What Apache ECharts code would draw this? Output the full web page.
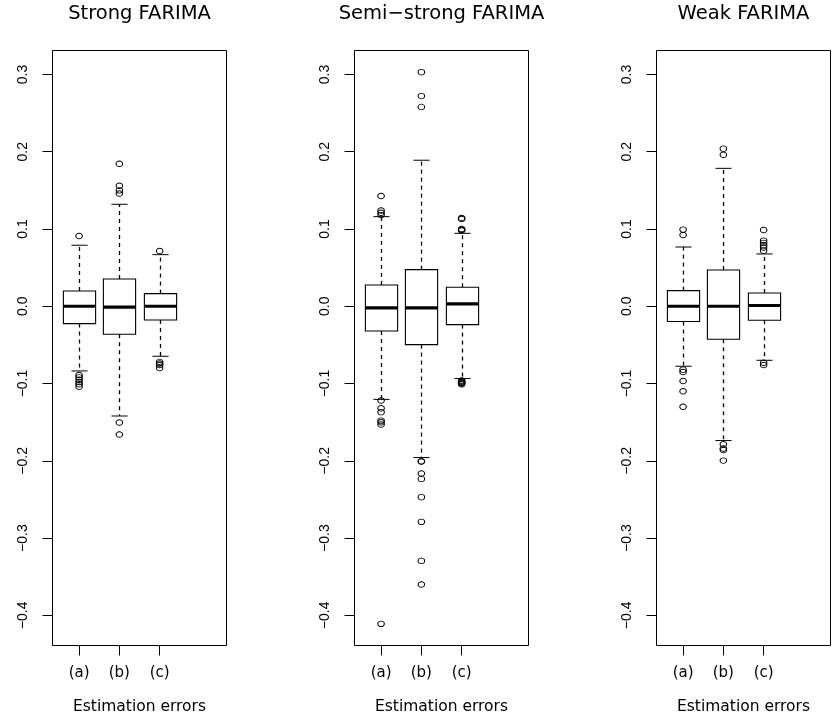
<!DOCTYPE html>
<html>
<head>
<meta charset="utf-8">
<script src="https://cdn.jsdelivr.net/npm/echarts@6/dist/echarts.min.js"></script>
<style>
html,body{margin:0;padding:0;background:#ffffff;}
#chart{width:833px;height:719px;}
</style>
</head>
<body>
<div id="chart"></div>
<script>
// ---------------- data ----------------
const categories = ['(a)', '(b)', '(c)'];
const categoryPositions = [1, 2, 3];
const panelTitles = ['Strong FARIMA', 'Semi\u2212strong FARIMA', 'Weak FARIMA'];
const xAxisTitle = 'Estimation errors';
const yTickValues = [-0.4, -0.3, -0.2, -0.1, 0.0, 0.1, 0.2, 0.3];
const yTickLabels = ['\u22120.4', '\u22120.3', '\u22120.2', '\u22120.1', '0.0', '0.1', '0.2', '0.3'];

// box statistics per category: [lower whisker, Q1, median, Q3, upper whisker]
const strongBoxes = [
  [-0.0837, -0.0224, 0.000, 0.0198, 0.079],
  [-0.142, -0.0362, -0.001, 0.0353, 0.132],
  [-0.0647, -0.0177, 0.000, 0.0164, 0.0668]
];
const strongOutliers = [
  [0.091, -0.089, -0.092, -0.095, -0.098, -0.101, -0.104],
  [0.1845, 0.156, 0.150, 0.146, -0.1505, -0.166],
  [0.0716, -0.072, -0.074, -0.076, -0.080]
];

const semiBoxes = [
  [-0.1205, -0.032, -0.002, 0.0276, 0.116],
  [-0.1958, -0.0496, -0.002, 0.0474, 0.189],
  [-0.0935, -0.0237, 0.003, 0.0246, 0.0944]
];
const semiOutliers = [
  [0.1427, 0.124, 0.121, 0.118, -0.122, -0.132, -0.137, -0.148, -0.150, -0.153, -0.411],
  [0.303, 0.272, 0.258, -0.2005, -0.201, -0.2165, -0.2234, -0.247, -0.279, -0.3295, -0.360],
  [0.1143, 0.113, 0.100, 0.099, 0.098, -0.096, -0.097, -0.098, -0.099, -0.100, -0.101]
];

const weakBoxes = [
  [-0.0776, -0.0198, 0.000, 0.0203, 0.0767],
  [-0.1738, -0.0427, 0.000, 0.047, 0.1785],
  [-0.0699, -0.0181, 0.001, 0.0172, 0.0677]
];
const weakOutliers = [
  [0.0992, 0.0923, -0.082, -0.085, -0.0966, -0.110, -0.130],
  [0.204, 0.196, -0.1785, -0.184, -0.186, -0.1997],
  [0.0987, 0.085, 0.082, 0.079, 0.076, 0.072, -0.073, -0.076]
];

const panelBoxes = [strongBoxes, semiBoxes, weakBoxes];
const panelOutliers = [strongOutliers, semiOutliers, weakOutliers];

// ---------------- layout / style ----------------
const panelLefts = [52.5, 354.5, 656.5];
const gridTop = 50.5;
const gridWidth = 174;
const gridHeight = 595;
const xMin = 0.34, xMax = 4.66;
const yMin = -0.439, yMax = 0.331;
const hFont = 'DejaVu Sans';
const vFont = 'Liberation Sans';

function tickLabel(v) {
  const i = yTickValues.findIndex(t => Math.abs(t - v) < 1e-9);
  return i >= 0 ? yTickLabels[i] : '';
}
function catLabel(v) {
  const i = categoryPositions.findIndex(t => Math.abs(t - v) < 1e-9);
  return i >= 0 ? categories[i] : '';
}

function renderBox(params, api) {
  const x = api.value(0);
  const lo = api.value(1), q1 = api.value(2), med = api.value(3), q3 = api.value(4), hi = api.value(5);
  const halfW = api.size([0.4, 0])[0];
  const capW = api.size([0.2, 0])[0];
  const pLo = api.coord([x, lo]);
  const pQ1 = api.coord([x, q1]);
  const pMed = api.coord([x, med]);
  const pQ3 = api.coord([x, q3]);
  const pHi = api.coord([x, hi]);
  const cx = Math.round(pMed[0]) + 0.5;
  const dashed = { stroke: '#000', lineWidth: 1.3, lineDash: [4, 4], fill: null };
  const solid = { stroke: '#000', lineWidth: 1, fill: null };
  return {
    type: 'group',
    children: [
      { type: 'line', shape: { x1: cx, y1: pQ3[1], x2: cx, y2: pHi[1] }, style: dashed },
      { type: 'line', shape: { x1: cx, y1: pQ1[1], x2: cx, y2: pLo[1] }, style: dashed },
      { type: 'line', shape: { x1: cx - capW, y1: pHi[1], x2: cx + capW, y2: pHi[1] }, style: solid },
      { type: 'line', shape: { x1: cx - capW, y1: pLo[1], x2: cx + capW, y2: pLo[1] }, style: solid },
      { type: 'rect', shape: { x: cx - halfW, y: pQ3[1], width: 2 * halfW, height: pQ1[1] - pQ3[1] },
        style: { fill: 'transparent', stroke: '#000', lineWidth: 1.1 } },
      { type: 'line', shape: { x1: cx - halfW, y1: pMed[1], x2: cx + halfW, y2: pMed[1] },
        style: { stroke: '#000', lineWidth: 3.2, fill: null } }
    ]
  };
}

const grids = [], xAxes = [], yAxes = [], series = [], graphics = [];
for (let p = 0; p < 3; p++) {
  grids.push({
    left: panelLefts[p], top: gridTop, width: gridWidth, height: gridHeight,
    show: true, borderColor: '#000', borderWidth: 1, backgroundColor: 'transparent',
    containLabel: false, outerBoundsMode: 'none'
  });
  xAxes.push({
    type: 'value', gridIndex: p, min: xMin, max: xMax, position: 'bottom',
    splitLine: { show: false },
    axisLine: { show: false, onZero: false },
    axisTick: { show: true, inside: false, length: 10, customValues: categoryPositions,
      lineStyle: { color: '#000', width: 1 } },
    axisLabel: { show: true, customValues: categoryPositions, formatter: catLabel,
      margin: 20, color: '#000', fontFamily: hFont, fontSize: 15 },
    name: xAxisTitle, nameLocation: 'middle', nameGap: 53,
    nameTextStyle: { color: '#000', fontFamily: hFont, fontSize: 15.5 }
  });
  yAxes.push({
    type: 'value', gridIndex: p, min: yMin, max: yMax, position: 'left',
    splitLine: { show: false },
    axisLine: { show: false, onZero: false },
    axisTick: { show: true, inside: false, length: 10, customValues: yTickValues,
      lineStyle: { color: '#000', width: 1 } },
    axisLabel: { show: true, customValues: yTickValues, formatter: tickLabel, rotate: 90,
      margin: 22, color: '#000', fontFamily: vFont, fontSize: 14 }
  });
  series.push({
    type: 'custom', xAxisIndex: p, yAxisIndex: p, silent: true,
    renderItem: renderBox,
    encode: { x: 0, y: [1, 2, 3, 4, 5] },
    data: panelBoxes[p].map((b, i) => [categoryPositions[i]].concat(b))
  });
  const pts = [];
  panelOutliers[p].forEach((arr, i) => arr.forEach(v => pts.push([categoryPositions[i], v])));
  series.push({
    type: 'scatter', xAxisIndex: p, yAxisIndex: p, silent: true,
    symbol: 'circle', symbolSize: [6.5, 5.5],
    itemStyle: { color: 'rgba(0,0,0,0)', borderColor: '#000', borderWidth: 1, opacity: 1 },
    data: pts
  });
  graphics.push({
    type: 'text', x: panelLefts[p] + gridWidth / 2, y: 14, silent: true,
    style: { text: panelTitles[p], fill: '#000', font: '19.5px "DejaVu Sans"', fontFamily: hFont, fontSize: 19.5,
      align: 'center', verticalAlign: 'middle', textAlign: 'center', textVerticalAlign: 'middle' }
  });
}

const chart = echarts.init(document.getElementById('chart'), null, { renderer: 'canvas' });
chart.setOption({
  animation: false,
  backgroundColor: '#ffffff',
  grid: grids,
  xAxis: xAxes,
  yAxis: yAxes,
  series: series,
  graphic: graphics,
  tooltip: { show: false }
});
</script>
</body>
</html>
